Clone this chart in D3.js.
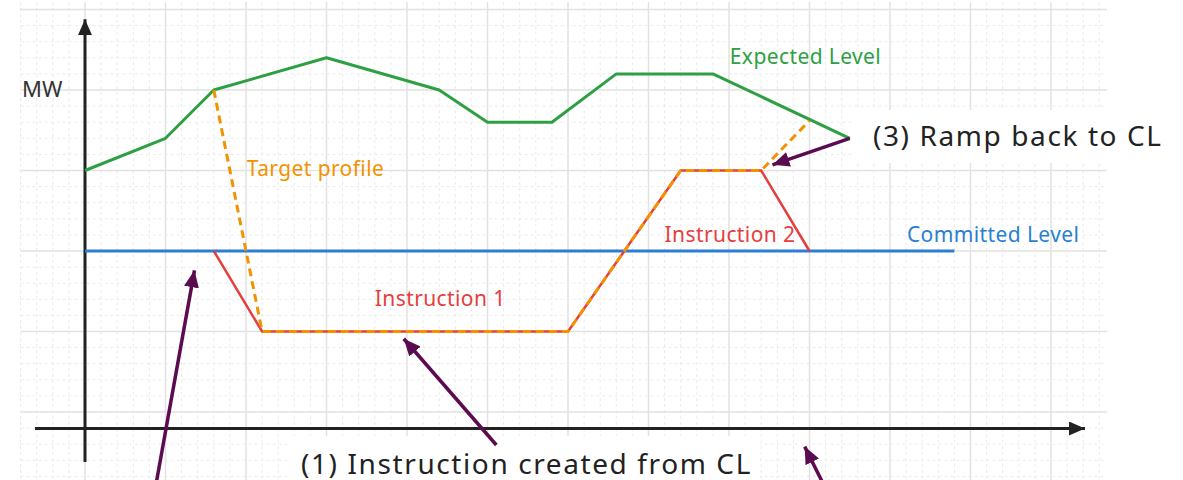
<!DOCTYPE html>
<html lang="en">
<head>
<meta charset="utf-8">
<script src="https://d3js.org/d3.v7.min.js"></script>
<style type="text/css">
body { margin: 0; background: #fff; }
.label { font-family: "Noto Sans", sans-serif; font-size: 21px; letter-spacing: 0.4px; }
.note { font-family: "Noto Sans", sans-serif; font-size: 28px; letter-spacing: 1.6px; fill: #222; }
</style>
</head>
<body>
<script type="text/javascript">

var width = 1183;
var height = 480;

// Expected Level (green)
var expectedX = [0, 1, 1.6, 3, 4.4, 5, 5.8, 6.6, 7.8, 9.5];
var expectedY = [3, 3.4, 4, 4.4, 4, 3.6, 3.6, 4.2, 4.2, 3.4];

// Committed Level (blue)
var committedX = [0, 10.8];
var committedY = [2, 2];

// Instructions 1 and 2 (red)
var instructionX = [1.6, 2.2, 6, 7.4, 8.4, 9];
var instructionY = [2, 1, 1, 3, 3, 2];

// Target profile (orange, dashed)
var targetX = [1.6, 2.2, 6, 7.4, 8.4, 9];
var targetY = [4, 1, 1, 3, 3, 3.62];

// Annotation arrows: [tailX, tailY, tipX, tipY]
var arrows = [
  [0.81, -1.3, 1.36, 1.76],
  [5.11, -0.41, 3.96, 0.91],
  [9.5, 3.4, 8.54, 3.07],
  [9.25, -1.05, 8.94, -0.43]
];

var labels = ["Expected Level", "Target profile", "Committed Level", "Instruction 1", "Instruction 2"];
var labelX = [8.01, 2.01, 10.21, 3.6, 7.2];
var labelY = [4.32, 2.93, 2.11, 1.32, 2.11];
var labelColor = ["#2ea043", "#f39200", "#2a7fd4", "#e53e3e", "#e53e3e"];

var x = d3.scaleLinear().domain([0, 10]).range([85, 890]);
var y = d3.scaleLinear().domain([0, 5]).range([412, 9.5]);

var svg = d3.select("body")
            .append("svg")
            .attr("width", width)
            .attr("height", height);

// grid
var grid = svg.append("g");
var minorX = d3.range(-4, 64).map(function(i) { return i / 5; });
var minorY = d3.range(-4, 26).map(function(i) { return i / 5; });

grid.selectAll("line.vx")
    .data(minorX)
    .enter()
    .append("line")
    .attr("x1", function(d) { return x(d); })
    .attr("x2", function(d) { return x(d); })
    .attr("y1", 2)
    .attr("y2", height)
    .style("stroke", function(d, i) { return (i % 5 == 4) ? "#e2e2e2" : "#ebebeb"; })
    .style("stroke-width", function(d, i) { return (i % 5 == 4) ? 1.5 : 1; })
    .style("stroke-dasharray", function(d, i) { return (i % 5 == 4) ? null : "3,3"; });

grid.selectAll("line.hy")
    .data(minorY)
    .enter()
    .append("line")
    .attr("x1", x(-0.8))
    .attr("x2", 1107)
    .attr("y1", function(d) { return y(d); })
    .attr("y2", function(d) { return y(d); })
    .style("stroke", function(d, i) { return (i % 5 == 4) ? "#e2e2e2" : "#ebebeb"; })
    .style("stroke-width", function(d, i) { return (i % 5 == 4) ? 1.5 : 1; })
    .style("stroke-dasharray", function(d, i) { return (i % 5 == 4) ? null : "3,3"; });

// white boxes behind the notes
svg.append("rect").attr("x", 852).attr("y", 110).attr("width", 331).attr("height", 53).style("fill", "#fff");
svg.append("rect").attr("x", 290).attr("y", 436).attr("width", 470).attr("height", 44).style("fill", "#fff");

// arrow markers
var defs = svg.append("defs");
function marker(id, color, len, wid) {
  defs.append("marker")
      .attr("id", id)
      .attr("markerUnits", "userSpaceOnUse")
      .attr("viewBox", "0 0 " + len + " " + wid)
      .attr("refX", len)
      .attr("refY", wid / 2)
      .attr("markerWidth", len)
      .attr("markerHeight", wid)
      .attr("orient", "auto")
      .append("path")
      .attr("d", "M0,0L" + len + "," + (wid / 2) + "L0," + wid + "Z")
      .style("fill", color);
}
marker("axisHead", "#222", 16, 14);
marker("noteHead", "#5b0b4f", 17, 15);

// axes
svg.append("line")
   .attr("x1", x(0)).attr("x2", x(0))
   .attr("y1", 462).attr("y2", y(4.88))
   .style("stroke", "#222").style("stroke-width", 3)
   .attr("marker-end", "url(#axisHead)");
svg.append("line")
   .attr("x1", 35).attr("x2", 1085)
   .attr("y1", y(-0.205)).attr("y2", y(-0.205))
   .style("stroke", "#222").style("stroke-width", 3)
   .attr("marker-end", "url(#axisHead)");

var line = d3.line()
             .x(function(d) { return x(d[0]); })
             .y(function(d) { return y(d[1]); });

function zipXY(a, b) { return a.map(function(v, i) { return [v, b[i]]; }); }

svg.append("path")
   .attr("d", line(zipXY(committedX, committedY)))
   .style("fill", "none").style("stroke", "#2a7fd4").style("stroke-width", 3);

svg.append("path")
   .attr("d", line(zipXY(expectedX, expectedY)))
   .style("fill", "none").style("stroke", "#2ea043").style("stroke-width", 3)
   .style("stroke-linejoin", "round");

svg.append("path")
   .attr("d", line(zipXY(instructionX, instructionY)))
   .style("fill", "none").style("stroke", "#e53e3e").style("stroke-width", 2.5);

svg.append("path")
   .attr("d", line(zipXY(targetX, targetY)))
   .style("fill", "none").style("stroke", "#f39200").style("stroke-width", 3)
   .style("stroke-dasharray", "8,5");

// note arrows
svg.selectAll("line.note")
   .data(arrows)
   .enter()
   .append("line")
   .attr("x1", function(d) { return x(d[0]); })
   .attr("y1", function(d) { return y(d[1]); })
   .attr("x2", function(d) { return x(d[2]); })
   .attr("y2", function(d) { return y(d[3]); })
   .style("stroke", "#5b0b4f")
   .style("stroke-width", 3.5)
   .attr("marker-end", "url(#noteHead)");

// coloured labels
svg.selectAll("text.label")
   .data(labels)
   .enter()
   .append("text")
   .attr("class", "label")
   .attr("x", function(d, i) { return x(labelX[i]); })
   .attr("y", function(d, i) { return y(labelY[i]); })
   .style("fill", function(d, i) { return labelColor[i]; })
   .text(function(d) { return d; });

svg.append("text")
   .attr("class", "label")
   .attr("x", 22).attr("y", 97)
   .style("fill", "#333").style("font-size", "22px").style("letter-spacing", "0px")
   .text("MW");

svg.append("text").attr("class", "note")
   .attr("x", 873).attr("y", 146)
   .text("(3) Ramp back to CL");

svg.append("text").attr("class", "note")
   .attr("x", 301).attr("y", 474)
   .text("(1) Instruction created from CL");

</script>
</body>
</html>
